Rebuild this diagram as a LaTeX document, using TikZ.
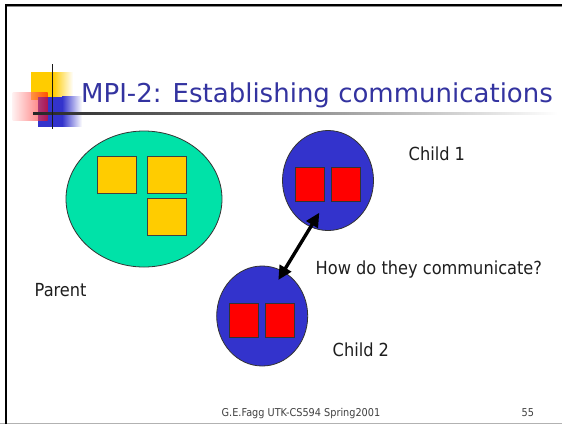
\documentclass[tikz,border=0pt]{standalone}
\usepackage{fontspec}
\setmainfont[FakeStretch=0.9]{DejaVu Sans}
\newfontfamily\titlefont{DejaVu Sans}
\usetikzlibrary{shapes.geometric,arrows.meta}
\definecolor{titleblue}{RGB}{51,51,160}
\definecolor{parentgreen}{RGB}{0,226,168}
\definecolor{childblue}{RGB}{51,51,204}
\definecolor{procyellow}{RGB}{255,204,0}
\definecolor{procred}{RGB}{255,0,0}
\definecolor{bodytext}{RGB}{30,30,30}
\tikzset{
  label text/.style={anchor=base west,inner sep=0pt,text=bodytext,font=\fontsize{18}{21}\selectfont},
  foot text/.style={anchor=base west,inner sep=0pt,text=bodytext!85,font=\fontsize{10.8}{12}\selectfont},
  parentblob/.style={ellipse,draw=black!80,line width=0.8pt,fill=parentgreen,inner sep=0pt,minimum width=156pt,minimum height=136pt},
  childblob/.style={ellipse,draw=black!80,line width=0.8pt,fill=childblue,inner sep=0pt,minimum width=91pt,minimum height=100pt},
  yellowproc/.style={rectangle,draw=black!75,line width=0.8pt,fill=procyellow,inner sep=0pt,minimum width=39pt,minimum height=37pt},
  redproc/.style={rectangle,draw=black!80,line width=0.8pt,fill=procred,inner sep=0pt,minimum width=29pt,minimum height=34pt},
  talk/.style={{Triangle[length=14pt,width=13pt]}-{Triangle[length=14pt,width=13pt]},line width=3.4pt,black}
}
\begin{document}
\begin{tikzpicture}[x=1pt,y=-1pt]
\useasboundingbox (0,0) rectangle (562,424);
\fill[white] (0,0) rectangle (562,424);

% slide frame
\draw[black!30,line width=1pt] (0,423.5) -- (562,423.5);
\draw[black!45,line width=1pt] (7,6.8) -- (562,6.8);
\draw[black,line width=2.3pt] (6,424) -- (6,5) -- (562,5);

% title decoration
\fill[procyellow] (31,72) rectangle (53,100);
\shade[left color=procyellow,right color=white] (53,72) rectangle (73,100);
\fill[childblue] (37.7,96.7) rectangle (62,126.7);
\shade[left color=childblue,right color=white] (62,96.7) rectangle (82,126.7);
\shade[left color=red!10,right color=procred,opacity=0.6] (12.7,92) rectangle (47.7,120);
\shade[left color=black!85,right color=white,middle color=black!45] (33,112.6) rectangle (558,114);
\draw[black!90,line width=1.3pt] (52.7,64) -- (52.7,129.3);

\node[anchor=base west,inner sep=0pt,text=titleblue,font=\titlefont\fontsize{26}{30}\selectfont] (title) at (81,102.7) {MPI-2: Establishing communications};

% parent process group
\node[parentblob] (parent) at (144,199) {};
\node[yellowproc] (p1) at (117.2,174.4) {};
\node[yellowproc] (p2) at (166.5,174.4) {};
\node[yellowproc] (p3) at (166.5,217) {};
\node[label text] (parentlbl) at (34.5,296.7) {Parent};

% first child group
\node[childblob] (c1) at (328,180.5) {};
\node[redproc] (c1a) at (309.5,184.7) {};
\node[redproc] (c1b) at (345.8,184.7) {};
\node[label text] (c1lbl) at (408.5,160) {Child 1};

% second child group
\node[childblob] (c2) at (262.2,316) {};
\node[redproc] (c2a) at (244,320.3) {};
\node[redproc] (c2b) at (280.2,320.3) {};
\node[label text] (c2lbl) at (332.5,356.7) {Child 2};

% open question: the link between the children
\coordinate (tip1) at (319.3,212.7);
\coordinate (tip2) at (278.3,280);
\draw[talk] (tip2) -- (tip1);
\node[label text] (question) at (315.5,274) {How do they communicate?};

% footer
\node[foot text] (footer) at (221.5,416.5) {G.E.Fagg UTK-CS594 Spring2001};
\node[foot text] (pageno) at (521.5,416.5) {55};
\end{tikzpicture}
\end{document}
